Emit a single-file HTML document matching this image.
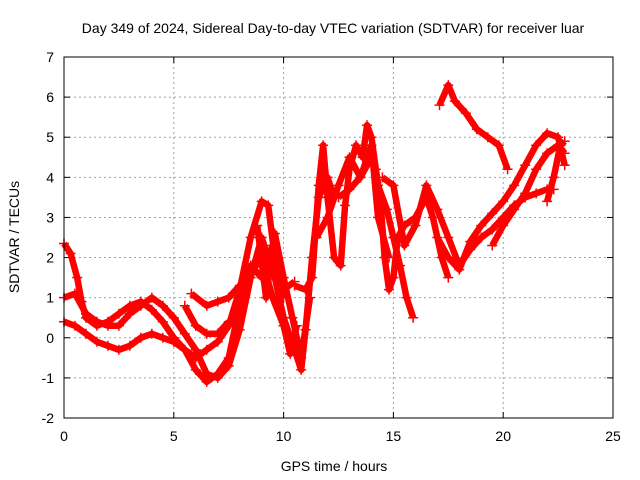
<!DOCTYPE html>
<html><head><meta charset="utf-8"><style>
html,body{margin:0;padding:0;background:#fff;}
svg{display:block;font-family:"Liberation Sans",sans-serif;}
</style></head><body>
<svg id="chart" width="640" height="480" viewBox="0 0 640 480">
<text x="333" y="33" font-size="14" text-anchor="middle">Day 349 of 2024, Sidereal Day-to-day VTEC variation (SDTVAR) for receiver luar</text>
<text x="334" y="471" font-size="14" text-anchor="middle">GPS time / hours</text>
<text transform="translate(19,237) rotate(-90)" font-size="14" text-anchor="middle">SDTVAR / TECUs</text>
<g id="grid"></g><g id="marks"></g>
<rect x="64" y="57" width="549" height="361" fill="none" stroke="#000" stroke-width="1"/>
</svg>
<script>
const xTicks=[0,5,10,15,20,25];
const yTicks=[-2,-1,0,1,2,3,4,5,6,7];
const s1=[[0,2.35],[0.3,2.1],[0.6,1.5],[0.8,0.9],[1.0,0.5],[1.5,0.3],[2.0,0.4],[2.5,0.6],[3.0,0.8],[3.5,0.9],[4.0,0.7],[4.5,0.4],[5.0,0.0],[5.5,-0.3],[6.0,-0.5],[6.5,-0.3],[7.0,-0.1],[7.5,0.3],[8.0,1.2],[8.5,2.5],[9.0,3.4],[9.3,3.3],[9.6,2.0],[10,1.0]];
const s2=[[0,1.0],[0.5,1.1],[1.0,0.6],[1.5,0.4],[2,0.3],[2.5,0.3],[3,0.6],[3.5,0.8],[4,1.0],[4.5,0.8],[5,0.5],[5.5,0.1],[6,-0.3],[6.5,-0.9],[7,-1.0],[7.5,-0.7],[8,0.2],[8.5,1.5],[9,2.5],[9.3,2.0],[9.6,1.5],[10,0.5],[10.5,-0.3],[10.8,-0.8],[11,0.2],[11.3,2.0],[11.6,3.5],[12,4.0],[12.3,3.5]];
const s3=[[0,0.4],[0.5,0.3],[1,0.1],[1.5,-0.1],[2,-0.2],[2.5,-0.3],[3,-0.2],[3.5,0.0],[4,0.1],[4.5,0.0],[5,-0.1],[5.5,-0.3],[6,-0.8],[6.5,-1.1],[7,-0.9],[7.5,-0.5],[8,0.8],[8.5,1.8],[9,1.5],[9.5,2.3],[10,1.2],[10.5,1.4]];
const s4=[[5.5,0.8],[6,0.3],[6.5,0.1],[7,0.1],[7.5,0.4]];
const s5=[[5.8,1.1],[6.5,0.8],[7,0.9],[7.5,1.0],[8,1.3],[8.5,1.6],[9,2.0],[9.5,1.0],[10,0.3],[10.3,-0.4],[10.6,0.3]];
const s6=[[10.5,1.3],[11,1.2],[11.3,1.5],[11.6,3.8],[11.8,4.8],[12,3.5],[12.3,2.0],[12.6,1.8],[12.8,3.3],[13,4.2],[13.3,4.8],[13.6,4.5],[13.8,5.3],[14,5.0],[14.2,4.2],[14.4,3.5],[14.6,2.0],[14.8,1.2],[15,1.5],[15.2,2.5],[15.5,2.8],[16,3.0],[16.5,3.5],[16.8,3.0],[17.2,2.0],[17.5,1.5]];
const s7=[[12.5,3.5],[13,3.7],[13.5,4.0],[14,4.5],[14.3,3.8],[14.7,3.2],[15,2.5],[15.3,1.8],[15.6,1.0],[15.9,0.5]];
const s8=[[14.5,4.0],[15,3.8],[15.5,2.3],[16,2.8],[16.5,3.8],[17,3.2],[17.5,2.5],[18,1.8],[18.5,2.2],[19,2.5],[19.5,2.7],[20,3.0],[20.5,3.3],[21,3.5],[21.5,3.6],[22,3.7],[22.3,3.7]];
const s9=[[17,2.5],[17.5,2.0],[18,1.7],[18.5,2.4],[19,2.8],[19.5,3.1],[20,3.4],[20.5,3.8],[21,4.3],[21.5,4.8],[22,5.1],[22.5,5.0],[22.8,4.3]];
const s10=[[17.1,5.8],[17.5,6.3],[17.8,5.9],[18.3,5.6],[18.8,5.2],[19.3,5.0],[19.8,4.8],[20.2,4.2]];
const s11=[[19.5,2.3],[20,2.8],[20.5,3.2],[21,3.6],[21.5,4.2],[22,4.6],[22.5,4.8],[22.8,4.6]];
const s12=[[22,3.4],[22.3,4.0],[22.6,4.8],[22.8,4.9]];
const s13=[[11.5,2.5],[12,3.0],[12.5,3.8],[13,4.5],[13.5,4.0],[14,4.8],[14.3,3.0],[14.8,2.0]];
const s14=[[8.8,2.8],[9.2,1.0],[9.6,2.6],[10,1.5],[10.4,0.5],[10.8,-0.5],[11.2,1.0]];
const seriesList=[s1,s2,s3,s4,s5,s6,s7,s8,s9,s10,s11,s12,s13,s14];

const NS="http://www.w3.org/2000/svg";
const L=64,R=613,T=57,B=418;
function xs(v){return L+(v-0)/(25-0)*(R-L);}
function ys(v){return B-(v+2)/(7+2)*(B-T);}
const grid=document.getElementById('grid');
const marks=document.getElementById('marks');
function mk(tag,attrs,parent){const e=document.createElementNS(NS,tag);for(const k in attrs)e.setAttribute(k,attrs[k]);parent.appendChild(e);return e;}
xTicks.forEach(t=>{
  const x=xs(t);
  if(t>0&&t<25){const g=mk('line',{x1:x,x2:x,y1:T,y2:B,stroke:'#a0a0a0','stroke-dasharray':'2,3'},grid);
  
  }
  const a=mk('line',{x1:x,x2:x,y1:B,y2:B-6,stroke:'#000'},grid);
  
  
  const b=mk('line',{x1:x,x2:x,y1:T,y2:T+6,stroke:'#000'},grid);
  
  
  const lb=mk('text',{x:x,y:B+23,'font-size':14,'text-anchor':'middle'},grid);lb.textContent=t;
  
  
});
yTicks.forEach(t=>{
  const y=ys(t);
  if(t>-2&&t<7){const g=mk('line',{x1:L,x2:R,y1:y,y2:y,stroke:'#a0a0a0','stroke-dasharray':'2,3'},grid);
  
  }
  const a=mk('line',{x1:L,x2:L+6,y1:y,y2:y,stroke:'#000'},grid);
  
  
  const b=mk('line',{x1:R,x2:R-6,y1:y,y2:y,stroke:'#000'},grid);
  
  
  const lb=mk('text',{x:L-10,y:y+5,'font-size':14,'text-anchor':'end'},grid);lb.textContent=t;
  
  
});
seriesList.forEach((s,i)=>{
  const pl=mk('polyline',{points:s.map(p=>xs(p[0])+','+ys(p[1])).join(' '),fill:'none',stroke:'#ff0000','stroke-width':6.5,'stroke-linejoin':'round'},marks);
  
  
  s.forEach(p=>{
    const x=xs(p[0]),y=ys(p[1]);
    const m=mk('path',{d:`M${x-5},${y}H${x+5}M${x},${y-5}V${y+5}`,stroke:'#ff0000','stroke-width':1.5},marks);
    
    
  });
});
</script>
</body></html>
